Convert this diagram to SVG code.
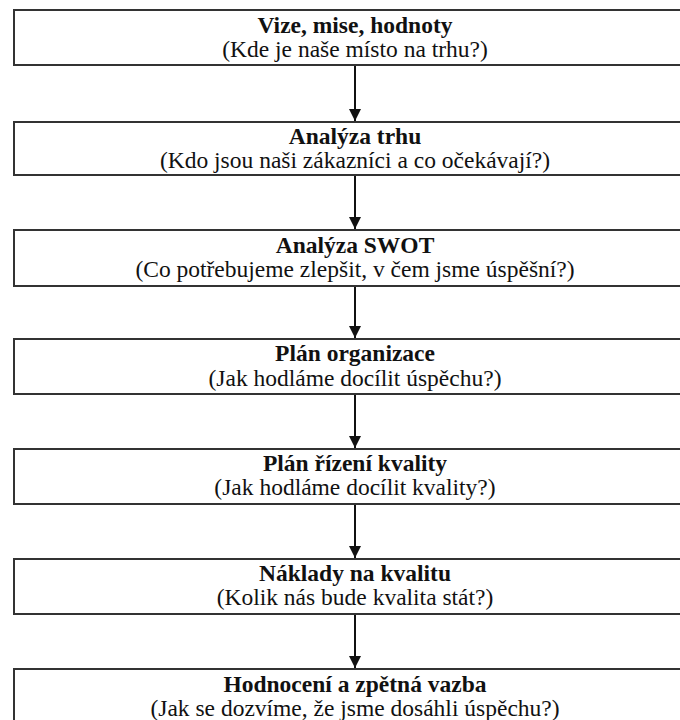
<svg xmlns="http://www.w3.org/2000/svg" width="680" height="720" viewBox="0 0 680 720">
<defs>
<style>
.box{fill:#fff;stroke:#333;stroke-width:2}
.t{font-family:"Liberation Serif","Times New Roman",serif;font-size:23.5px;fill:#111;text-anchor:middle}
.b{font-weight:bold}
.c{stroke:#111;stroke-width:2;fill:none}
</style>
<marker id="ah" viewBox="0 0 12 12" markerWidth="12" markerHeight="12" refX="12" refY="6" orient="auto" markerUnits="userSpaceOnUse">
<path d="M0,0 L12,6 L0,12 Z" fill="#111"/>
</marker>
</defs>
<rect width="680" height="720" fill="#fff"/>
<g id="connectors">
<line class="c" x1="355" y1="66" x2="355" y2="121" marker-end="url(#ah)"/>
<line class="c" x1="355" y1="176" x2="355" y2="229" marker-end="url(#ah)"/>
<line class="c" x1="355" y1="287" x2="355" y2="338" marker-end="url(#ah)"/>
<line class="c" x1="355" y1="395" x2="355" y2="448" marker-end="url(#ah)"/>
<line class="c" x1="355" y1="505" x2="355" y2="558" marker-end="url(#ah)"/>
<line class="c" x1="355" y1="615" x2="355" y2="668" marker-end="url(#ah)"/>
</g>
<g id="n1"><rect class="box" x="14" y="10" width="690" height="55"/>
<text class="t b" x="355" y="33">Vize, mise, hodnoty</text>
<text class="t" x="355" y="57">(Kde je naše místo na trhu?)</text></g>
<g id="n2"><rect class="box" x="14" y="122" width="690" height="53"/>
<text class="t b" x="355" y="144">Analýza trhu</text>
<text class="t" x="355" y="168">(Kdo jsou naši zákazníci a co očekávají?)</text></g>
<g id="n3"><rect class="box" x="14" y="230" width="690" height="56"/>
<text class="t b" x="355" y="253">Analýza SWOT</text>
<text class="t" x="355" y="277">(Co potřebujeme zlepšit, v čem jsme úspěšní?)</text></g>
<g id="n4"><rect class="box" x="14" y="339" width="690" height="55"/>
<text class="t b" x="355" y="361">Plán organizace</text>
<text class="t" x="355" y="386">(Jak hodláme docílit úspěchu?)</text></g>
<g id="n5"><rect class="box" x="14" y="449" width="690" height="55"/>
<text class="t b" x="355" y="471">Plán řízení kvality</text>
<text class="t" x="355" y="495">(Jak hodláme docílit kvality?)</text></g>
<g id="n6"><rect class="box" x="14" y="559" width="690" height="55"/>
<text class="t b" x="355" y="581">Náklady na kvalitu</text>
<text class="t" x="355" y="605">(Kolik nás bude kvalita stát?)</text></g>
<g id="n7"><rect class="box" x="14" y="669" width="690" height="70"/>
<text class="t b" x="355" y="692">Hodnocení a zpětná vazba</text>
<text class="t" x="355" y="716">(Jak se dozvíme, že jsme dosáhli úspěchu?)</text></g>
</svg>
